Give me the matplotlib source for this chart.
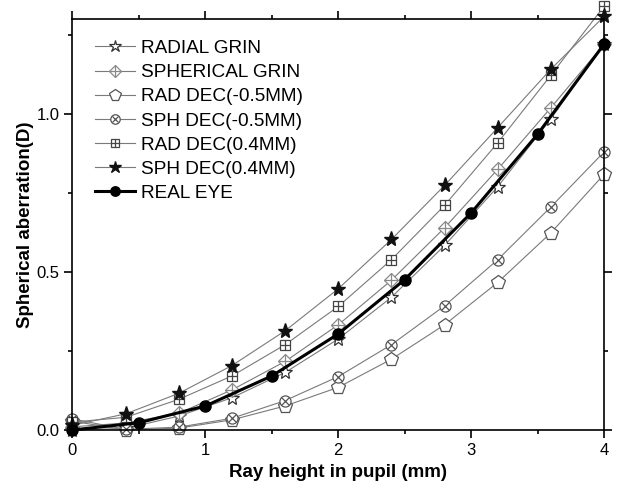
import matplotlib
matplotlib.use("Agg")
import matplotlib.pyplot as plt
from matplotlib.ticker import MultipleLocator, FormatStrFormatter

plt.rcParams['font.family'] = ['Liberation Sans', 'DejaVu Sans']

# pupil ray heights (mm)
x_grin = [0, 0.4, 0.8, 1.2, 1.6, 2.0, 2.4, 2.8, 3.2, 3.6, 4.0]
x_eye = [0, 0.5, 1.0, 1.5, 2.0, 2.5, 3.0, 3.5, 4.0]

# spherical aberration (D)
radial_grin = [0.0, 0.005, 0.044, 0.102, 0.182, 0.288, 0.420, 0.584, 0.770, 0.985, 1.221]
spherical_grin = [0.01, 0.022, 0.053, 0.127, 0.217, 0.333, 0.474, 0.640, 0.825, 1.020, 1.221]
rad_dec_m05 = [0.028, 0.0, 0.006, 0.032, 0.076, 0.135, 0.224, 0.333, 0.467, 0.624, 0.809]
sph_dec_m05 = [0.035, 0.002, 0.009, 0.037, 0.093, 0.169, 0.270, 0.393, 0.539, 0.706, 0.880]
rad_dec_04 = [0.025, 0.040, 0.097, 0.171, 0.270, 0.391, 0.539, 0.711, 0.909, 1.123, 1.341]
sph_dec_04 = [0.015, 0.051, 0.116, 0.204, 0.314, 0.447, 0.603, 0.774, 0.957, 1.142, 1.309]
real_eye = [0.0, 0.023, 0.076, 0.171, 0.304, 0.476, 0.687, 0.936, 1.221]

labels = ['RADIAL GRIN', 'SPHERICAL GRIN', 'RAD DEC(-0.5MM)', 'SPH DEC(-0.5MM)',
          'RAD DEC(0.4MM)', 'SPH DEC(0.4MM)', 'REAL EYE']

fig = plt.figure(figsize=(6.17, 4.94), dpi=100)
ax = fig.add_axes([0.1175, 0.1296, 0.8615, 0.8314])

lc = '#7a7a7a'
lw = 0.8

h = []
l1, = ax.plot(x_grin, radial_grin, color=lc, lw=lw, marker='*', ms=11,
              mfc='white', mec='#333333', mew=0.9, clip_on=False)
h.append(l1)

l2, = ax.plot(x_grin, spherical_grin, color=lc, lw=lw, marker='D', ms=7,
              mfc='white', mec='#8a8a8a', mew=0.9, clip_on=False)
l2b, = ax.plot(x_grin, spherical_grin, ls='none', marker='+', ms=10,
               mec='#8a8a8a', mew=0.9, clip_on=False)
h.append((l2, l2b))

l3, = ax.plot(x_grin, rad_dec_m05, color=lc, lw=lw, marker='p', ms=10,
              mfc='white', mec='#555555', mew=0.9, clip_on=False)
h.append(l3)

l4, = ax.plot(x_grin, sph_dec_m05, color=lc, lw=lw, marker='o', ms=8,
              mfc='white', mec='#555555', mew=0.9, clip_on=False)
l4b, = ax.plot(x_grin, sph_dec_m05, ls='none', marker='x', ms=5.5,
               mec='#555555', mew=0.9, clip_on=False)
h.append((l4, l4b))

l5, = ax.plot(x_grin, rad_dec_04, color=lc, lw=lw, marker='s', ms=7.5,
              mfc='white', mec='#444444', mew=0.9, clip_on=False)
l5b, = ax.plot(x_grin, rad_dec_04, ls='none', marker='+', ms=7.5,
               mec='#444444', mew=0.9, clip_on=False)
h.append((l5, l5b))

l6, = ax.plot(x_grin, sph_dec_04, color=lc, lw=lw, marker='*', ms=11,
              mfc='#111111', mec='#111111', clip_on=False)
h.append(l6)

l7, = ax.plot(x_eye, real_eye, color='black', lw=2.2, marker='o', ms=8,
              mfc='black', mec='black', clip_on=False, zorder=3)
h.append(l7)

ax.set_xlim(0, 4)
ax.set_ylim(0, 1.30)
ax.xaxis.set_major_locator(MultipleLocator(1))
ax.xaxis.set_minor_locator(MultipleLocator(0.5))
ax.yaxis.set_major_locator(MultipleLocator(0.5))
ax.yaxis.set_minor_locator(MultipleLocator(0.25))
ax.yaxis.set_major_formatter(FormatStrFormatter('%.1f'))
ax.tick_params(which='both', direction='out', top=True, right=True,
               width=1.2, labelsize=12)
ax.tick_params(which='major', length=6)
ax.tick_params(which='minor', length=3)
for s in ax.spines.values():
    s.set_linewidth(1.2)

ax.set_xlabel('Ray height in pupil (mm)', fontsize=13.5, fontweight='bold', labelpad=4)
ax.set_ylabel('Spherical aberration(D)', fontsize=13.5, fontweight='bold', labelpad=2)

ax.legend(h, labels, loc='upper left', bbox_to_anchor=(0.042, 0.95), frameon=False,
          fontsize=13.7, handlelength=2.1, handletextpad=0.35, labelspacing=0.36,
          borderpad=0, borderaxespad=0, markerscale=0.85)

fig.savefig('out.png', dpi=100)
